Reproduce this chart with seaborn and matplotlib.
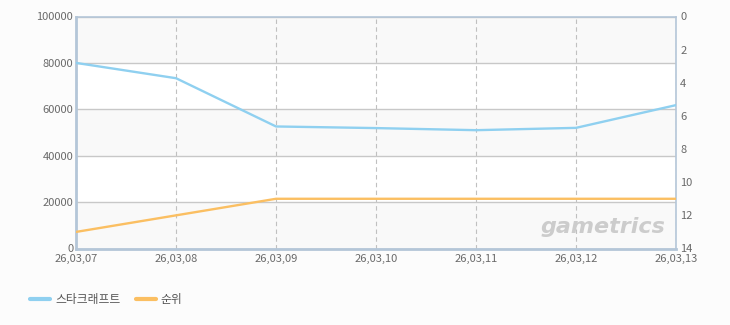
import matplotlib
matplotlib.use("Agg")
import matplotlib.pyplot as plt
import seaborn as sns
import pandas as pd
from matplotlib.lines import Line2D

dates = ["26,03,07", "26,03,08", "26,03,09", "26,03,10", "26,03,11", "26,03,12", "26,03,13"]
users = [80000, 73400, 52600, 51900, 51000, 52000, 61800]
ranks = [13, 12, 11, 11, 11, 11, 11]
left_ticks = [0, 20000, 40000, 60000, 80000, 100000]
right_ticks = [0, 2, 4, 6, 8, 10, 12, 14]
series_names = ["스타크래프트", "순위"]

sns.set_theme(style="white")
plt.rcParams['font.family'] = ['Noto Sans CJK KR', 'DejaVu Sans']

blue = "#8fd0f0"
orange = "#fbbf62"
tick_col = "#6a6a6a"
edge_col = "#b4c6d8"

df = pd.DataFrame({"x": range(len(dates)), "users": users, "rank": ranks})

fig = plt.figure(figsize=(7.3, 3.25), dpi=100, facecolor="#fcfcfc")
ax = fig.add_axes([76/730, 1 - 248.5/325, 600/730, 232/325])
ax.set_facecolor("white")
ax.set_zorder(1)

# alternating bands
for i, (lo, hi) in enumerate(zip(left_ticks[:-1], left_ticks[1:])):
    if i % 2 == 0:
        ax.axhspan(lo, hi, color="#f9f9f9", zorder=0, lw=0)

sns.lineplot(data=df, x="x", y="users", ax=ax, color=blue, lw=1.7, zorder=3)
ax.set_xlim(0, len(dates) - 1)
ax.set_ylim(0, 100000)
ax.set_yticks(left_ticks)
ax.set_yticklabels([str(t) for t in left_ticks])
ax.set_xticks(range(len(dates)))
ax.set_xticklabels(dates)
ax.grid(axis="y", color="#c8c8c8", lw=1, zorder=1)
ax.grid(axis="x", color="#c0c0c0", lw=0.8, ls=(0, (4, 3)), zorder=1)
ax.set_xlabel("")
ax.set_ylabel("")
ax.tick_params(axis="y", length=0, labelsize=8, colors=tick_col, pad=2)
ax.tick_params(axis="x", length=0, labelsize=8, colors=tick_col, pad=4)
for side in ["left", "bottom"]:
    ax.spines[side].set_color(edge_col)
    ax.spines[side].set_linewidth(2)
for side in ["top", "right"]:
    ax.spines[side].set_color(edge_col)
    ax.spines[side].set_linewidth(1.2)

ax2 = ax.twinx()
sns.lineplot(data=df, x="x", y="rank", ax=ax2, color=orange, lw=1.7, zorder=3)
ax2.set_ylim(14, 0)
ax2.set_yticks(right_ticks)
ax2.set_yticklabels([str(t) for t in right_ticks])
ax2.set_ylabel("")
ax2.tick_params(axis="y", length=0, labelsize=8, colors=tick_col, pad=3)
for s in ax2.spines.values():
    s.set_visible(False)
ax2.grid(False)

# watermark
ax.text(0.982, 0.05, "gametrics", transform=ax.transAxes, ha="right", va="bottom",
        fontsize=16, fontweight="bold", style="italic", color="#cccccc",
        family=["DejaVu Sans"], zorder=2)

handles = [Line2D([0], [0], color=blue, lw=3), Line2D([0], [0], color=orange, lw=3)]
fig.legend(handles, series_names, loc="center left", bbox_to_anchor=(30/730, 1 - 300/325),
           ncol=2, frameon=False, fontsize=8.5, handlelength=1.7, columnspacing=1.3,
           handletextpad=0.42, labelcolor="#555555", borderpad=0, borderaxespad=0)

fig.savefig("out.png", dpi=100, facecolor=fig.get_facecolor())
